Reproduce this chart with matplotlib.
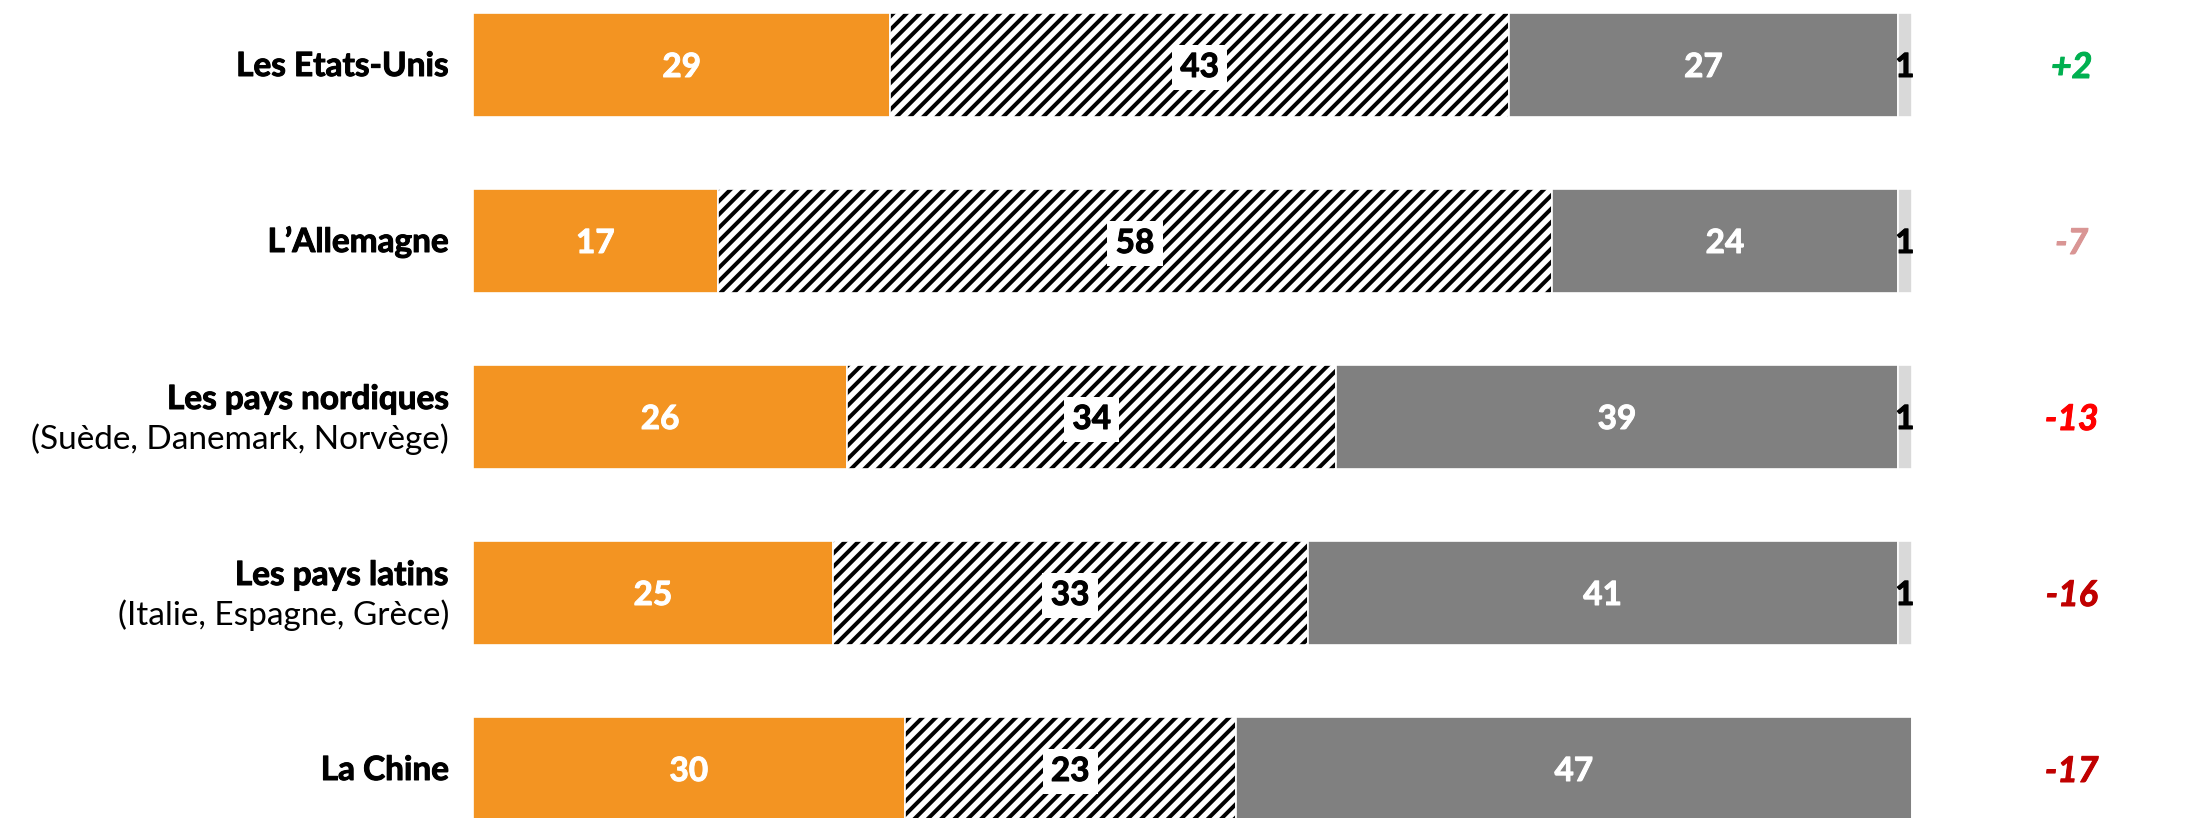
import matplotlib.pyplot as plt
import matplotlib.patheffects as pe
import numpy as np

plt.rcParams['font.family'] = ['Lato', 'DejaVu Sans']
plt.rcParams['hatch.linewidth'] = 3.6

categories = ["Les Etats-Unis", "L\u2019Allemagne", "Les pays nordiques", "Les pays latins", "La Chine"]
subtitles = ["", "", "(Su\u00e8de, Danemark, Norv\u00e8ge)", "(Italie, Espagne, Gr\u00e8ce)", ""]
orange_vals = [29, 17, 26, 25, 30]
hatch_vals = [43, 58, 34, 33, 23]
gray_vals = [27, 24, 39, 41, 47]
light_vals = [1, 1, 1, 1, 0]
changes = ["+2", "-7", "-13", "-16", "-17"]
change_colors = ["#00B050", "#D99594", "#FF0000", "#C00000", "#C00000"]

DPI = 80
fig = plt.figure(figsize=(2196 / DPI, 818 / DPI), dpi=DPI)
ax = fig.add_axes([473 / 2196, 0, 1439 / 2196, 1])

y = np.arange(len(categories))
h = 0.59
ekw = dict(edgecolor='white', linewidth=1.5)

ax.barh(y, orange_vals, height=h, color='#F39422', **ekw)
# hatch colour follows the edge colour, so draw the white outline separately
ax.barh(y, hatch_vals, left=orange_vals, height=h, color='white', hatch='//',
        edgecolor='black', linewidth=0)
ax.barh(y, hatch_vals, left=orange_vals, height=h, fill=False, **ekw)
left2 = np.add(orange_vals, hatch_vals)
ax.barh(y, gray_vals, left=left2, height=h, color='#808080', **ekw)
left3 = left2 + np.array(gray_vals)
ax.barh(y, light_vals, left=left3, height=h, color='#D9D9D9', **ekw)


def thick(c):
    # bold is a bit light next to the original, add a thin stroke
    return [pe.withStroke(linewidth=0.9, foreground=c)]


fs = 30
for i in range(len(categories)):
    # values inside the bars
    ax.annotate(str(orange_vals[i]), (orange_vals[i] / 2, i), xytext=(0, -12),
                textcoords='offset pixels', ha='center', va='baseline',
                color='white', fontsize=fs, fontweight='bold', path_effects=thick('white'))
    ax.annotate(str(hatch_vals[i]), (orange_vals[i] + hatch_vals[i] / 2, i), xytext=(0, -12),
                textcoords='offset pixels', ha='center', va='baseline',
                color='black', fontsize=fs, fontweight='bold', path_effects=thick('black'),
                bbox=dict(boxstyle='square,pad=0.25', facecolor='white', edgecolor='none'))
    ax.annotate(str(gray_vals[i]), (left2[i] + gray_vals[i] / 2, i), xytext=(0, -12),
                textcoords='offset pixels', ha='center', va='baseline',
                color='white', fontsize=fs, fontweight='bold', path_effects=thick('white'))
    if light_vals[i]:
        ax.annotate(str(light_vals[i]), (left3[i] + light_vals[i] / 2, i), xytext=(0, -12),
                    textcoords='offset pixels', ha='center', va='baseline',
                    color='black', fontsize=fs, fontweight='bold', path_effects=thick('black'))

    # category labels
    if subtitles[i]:
        ax.annotate(categories[i], (0, i), xytext=(-24, 8), textcoords='offset pixels',
                    ha='right', va='baseline', fontsize=fs, fontweight='bold',
                    path_effects=thick('black'), annotation_clip=False)
        ax.annotate(subtitles[i], (0, i), xytext=(-24, -32), textcoords='offset pixels',
                    ha='right', va='baseline', fontsize=fs, annotation_clip=False)
    else:
        ax.annotate(categories[i], (0, i), xytext=(-24, -11), textcoords='offset pixels',
                    ha='right', va='baseline', fontsize=fs, fontweight='bold',
                    path_effects=thick('black'), annotation_clip=False)

    # change column
    ax.annotate(changes[i], (111.1, i), xytext=(0, -13), textcoords='offset pixels',
                ha='center', va='baseline', fontsize=fs + 2, fontweight='bold',
                fontstyle='italic', color=change_colors[i],
                path_effects=thick(change_colors[i]), annotation_clip=False)

ax.set_xlim(0, 100)
ax.set_ylim((818 - 65) / 176, -65 / 176)
ax.axis('off')

fig.savefig('out.png', dpi=DPI)
